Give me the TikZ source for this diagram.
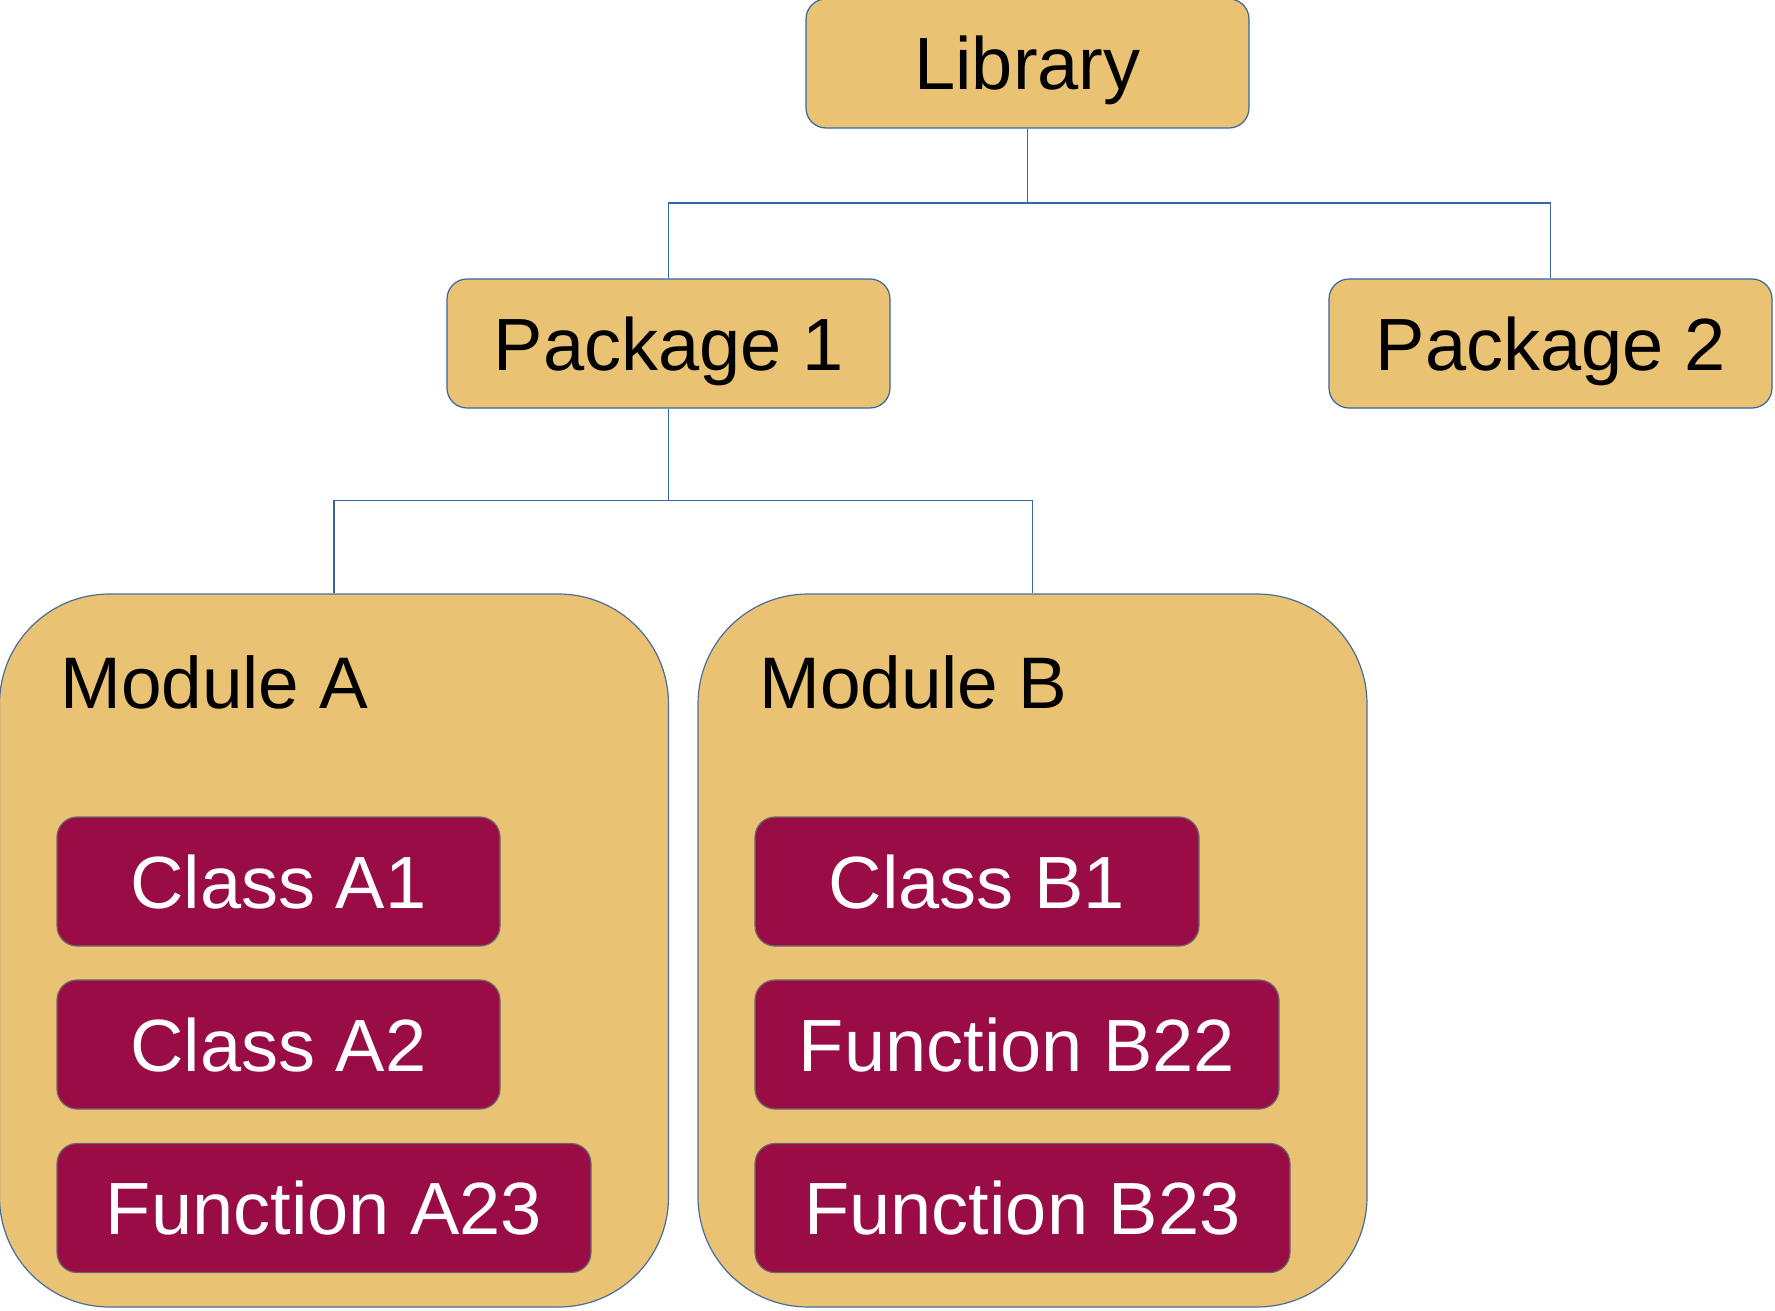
\documentclass[tikz,border=0pt]{standalone}
\usepackage{fontspec}
\setmainfont{Liberation Sans}
\definecolor{gold}{HTML}{E9C273}
\definecolor{maroon}{HTML}{990C45}
\definecolor{lineblue}{HTML}{3465A4}
\definecolor{boxgray}{HTML}{6B6B6B}
\tikzset{
  bigtext/.style={font=\fontsize{74}{88}\selectfont, text height=53pt, text depth=0pt, inner sep=0pt},
  pkgbox/.style={bigtext, draw=lineblue, line width=1.2pt, fill=gold, rounded corners=20pt,
     minimum width=443pt, minimum height=129pt, text=black},
  modbox/.style={draw=lineblue!70!gray, line width=1.2pt, fill=gold, rounded corners=110pt,
     minimum width=669pt, minimum height=713pt, inner sep=0pt},
  itembox/.style={bigtext, draw=boxgray, line width=1.2pt, fill=maroon, rounded corners=20pt,
     minimum height=129pt, text=white},
  modlabel/.style={font=\fontsize{73}{86}\selectfont, inner sep=0pt, anchor=base west, text=black},
  conn/.style={draw=lineblue, line width=1.3pt}
}
\begin{document}
\begin{tikzpicture}[x=1pt,y=-1pt]
\useasboundingbox (0,0) rectangle (1775,1311);
\node[pkgbox] (lib) at (1027.5,63.5) {Library};
\node[pkgbox] (p1) at (668.5,343.5) {Package 1};
\node[pkgbox] (p2) at (1550.5,343.5) {Package 2};
\node[modbox] (ma) at (334,950.5) {};
\node[modbox] (mb) at (1032.5,950.5) {};
\node[modlabel] (mal) at (60,708) {Module A};
\node[modlabel] (mbl) at (759,708) {Module B};
\node[itembox, minimum width=443pt] (a1) at (278.5,881.5) {Class A1};
\node[itembox, minimum width=443pt] (a2) at (278.5,1044.5) {Class A2};
\node[itembox, minimum width=534pt] (a3) at (324,1208) {Function A23};
\node[itembox, minimum width=444pt] (b1) at (977,881.5) {Class B1};
\node[itembox, minimum width=524pt] (b2) at (1017,1044.5) {Function B22};
\node[itembox, minimum width=535pt] (b3) at (1022.5,1208) {Function B23};
\coordinate (j1) at (1027.5,203);
\coordinate (j2) at (668.5,500.5);
\draw[conn] (lib.south) -- (j1) -| (p1.north);
\draw[conn] (j1) -| (p2.north);
\draw[conn] (p1.south) -- (j2) -| (ma.north);
\draw[conn] (j2) -| (mb.north);
\end{tikzpicture}
\end{document}
